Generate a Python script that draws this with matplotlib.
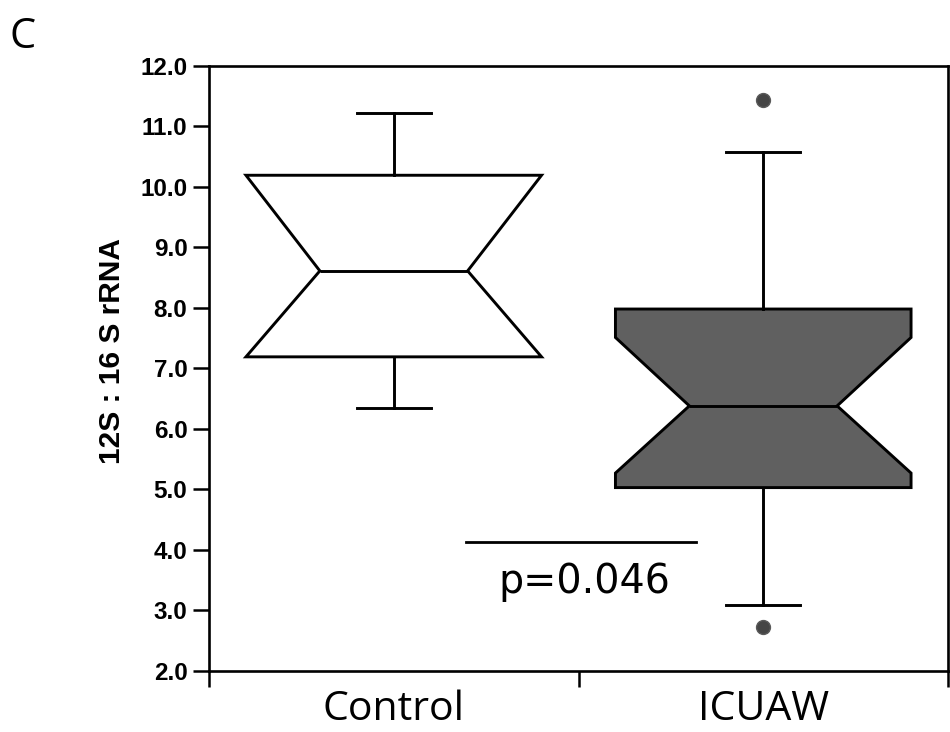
import matplotlib
matplotlib.use("Agg")
import matplotlib.pyplot as plt
from matplotlib.ticker import FixedLocator, NullFormatter

# Data
categories = ["Control", "ICUAW"]
q1 = [7.19, 5.03]
median = [8.61, 6.38]
q3 = [10.19, 7.98]
ci_low = [7.19, 5.27]
ci_high = [10.19, 7.51]
whisker_low = [6.35, 3.09]
whisker_high = [11.22, 10.57]
outliers = [[], [11.43, 2.72]]
box_colors = ["white", "#606060"]
y_ticks = [2.0, 3.0, 4.0, 5.0, 6.0, 7.0, 8.0, 9.0, 10.0, 11.0, 12.0]
p_text = "p=0.046"

fig = plt.figure(figsize=(9.5, 7.32), dpi=100)
ax = fig.add_axes([209 / 950, 1 - 671 / 732, 739 / 950, (671 - 65.7) / 732])

stats = []
for i, name in enumerate(categories):
    stats.append(dict(label=name, q1=q1[i], med=median[i], q3=q3[i],
                      cilo=ci_low[i], cihi=ci_high[i],
                      whislo=whisker_low[i], whishi=whisker_high[i],
                      fliers=outliers[i]))

lw = 2.1
bp = ax.bxp(stats, positions=[1, 2], widths=0.8, capwidths=0.2,
            shownotches=True, patch_artist=True,
            boxprops=dict(linewidth=lw, edgecolor="black"),
            medianprops=dict(color="black", linewidth=lw),
            whiskerprops=dict(color="black", linewidth=lw),
            capprops=dict(color="black", linewidth=lw),
            flierprops=dict(marker="o", markersize=10, markerfacecolor="#454545",
                            markeredgecolor="#5a5a5a", markeredgewidth=1.0,
                            linestyle="none"))
for patch, c in zip(bp["boxes"], box_colors):
    patch.set_facecolor(c)

ax.set_xlim(0.5, 2.5)
ax.set_ylim(2.0, 12.0)

for s in ax.spines.values():
    s.set_linewidth(1.9)

ax.set_yticks(y_ticks)
ax.set_yticklabels([f"{v:.1f}" for v in y_ticks], fontfamily="Liberation Sans",
                   fontweight="bold", fontsize=17.5)
ax.tick_params(axis="y", length=11.5, width=1.8, pad=4)

ax.set_xticks([1, 2])
ax.set_xticklabels(categories, fontfamily="Open Sans", fontsize=29.5)
ax.tick_params(axis="x", which="major", length=0, pad=13.5)
ax.xaxis.set_minor_locator(FixedLocator([0.5, 1.5, 2.5]))
ax.xaxis.set_minor_formatter(NullFormatter())
ax.tick_params(axis="x", which="minor", length=11.5, width=1.8)

ax.set_ylabel("12S : 16 S rRNA", fontfamily="Liberation Sans", fontweight="bold",
              fontsize=21.5, va="center")
ax.yaxis.set_label_coords(-0.1306, 0.528)

# significance annotation
ax.plot([1.195, 1.819], [4.136, 4.136], color="black", linewidth=2.0, clip_on=False)
ax.text(1.516, 3.47, p_text, ha="center", va="center", fontsize=28.5,
        fontfamily="DejaVu Sans")

fig.text(23 / 950, 1 - 37 / 732, "C", ha="center", va="center", fontsize=30,
         fontfamily="Open Sans")

fig.savefig("out.png", dpi=100)
